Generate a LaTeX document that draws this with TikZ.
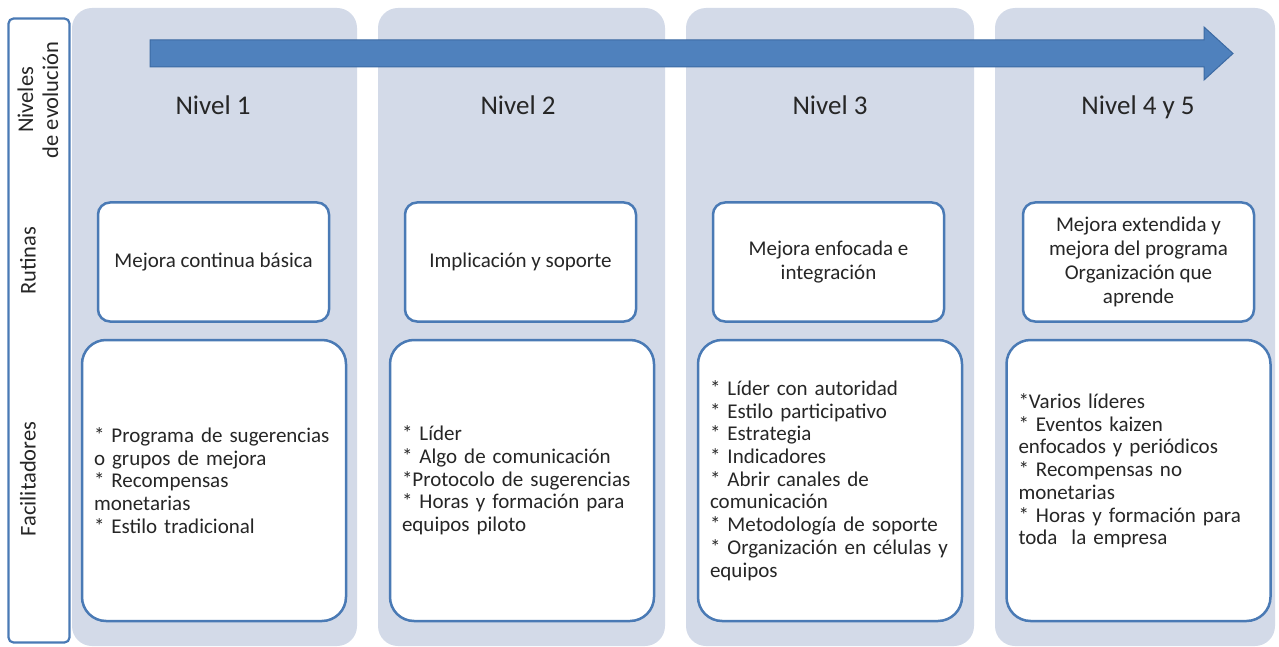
\documentclass[tikz,border=0pt]{standalone}
\usepackage{fontspec}
\setmainfont{Carlito}
\definecolor{colbg}{HTML}{D3DAE8}
\definecolor{bord}{HTML}{4A7AB5}
\definecolor{arrfill}{HTML}{4F81BD}
\definecolor{arrbord}{HTML}{3C6AA3}
\definecolor{txt}{HTML}{262626}
\begin{document}
\begin{tikzpicture}[x=1pt,y=-1pt,
  colbox/.style={fill=colbg, draw=none, rounded corners=20pt, minimum height=638pt, inner sep=0pt},
  sidebox/.style={fill=white, draw=bord, line width=2.2pt, rounded corners=5pt, minimum width=61pt, minimum height=624pt, inner sep=0pt},
  sidelabel/.style={rotate=90, align=center, text=txt, font=\fontsize{22.5}{25}\selectfont},
  heading/.style={anchor=base, text=txt, font=\fontsize{27}{30}\selectfont},
  rbox/.style={fill=white, draw=bord, line width=2.5pt, rounded corners=12pt, minimum width=231pt, minimum height=119pt, align=center, text=txt, font=\fontsize{21}{24}\selectfont},
  fbox/.style={fill=white, draw=bord, line width=2.5pt, rounded corners=24pt, minimum width=264pt, minimum height=281pt, text width=240pt, inner xsep=12pt, align=left, text=txt, font=\fontsize{21}{22.7}\selectfont}
]
\useasboundingbox (0,0) rectangle (1279,647);
% columns
\node[colbox, minimum width=285pt] (c1) at (214.5,327) {};
\node[colbox, minimum width=287pt] (c2) at (521.5,327) {};
\node[colbox, minimum width=288pt] (c3) at (830,327) {};
\node[colbox, minimum width=280pt] (c4) at (1135,327) {};
% side label column
\node[sidebox] (side) at (39,330.5) {};
\node[sidelabel] (lniv) at (38,100) {Niveles\\de evolución};
\node[sidelabel] (lrut) at (28,261) {Rutinas};
\node[sidelabel] (lfac) at (28,479) {Facilitadores};
% arrow
\filldraw[fill=arrfill, draw=arrbord, line width=1pt]
  (150,40) -- (1204,40) -- (1204,27) -- (1233,53.5) -- (1204,80) -- (1204,67) -- (150,67) -- cycle;
% headings
\node[heading] (h1) at (213,115) {Nivel 1};
\node[heading] (h2) at (518,115) {Nivel 2};
\node[heading] (h3) at (830,115) {Nivel 3};
\node[heading] (h4) at (1138,115) {Nivel 4 y 5};
% rutinas
\node[rbox] (r1) at (213.5,262) {Mejora continua básica};
\node[rbox] (r2) at (520.5,262) {Implicación y soporte};
\node[rbox] (r3) at (828.5,262) {Mejora enfocada e\\integración};
\node[rbox] (r4) at (1138.5,262) {Mejora extendida y\\mejora del programa\\Organización que\\aprende};
% facilitadores
\node[fbox] (f1) at (214,480.5) {* Programa de sugerencias\\o grupos de mejora\\{}* Recompensas\\monetarias\\{}* Estilo tradicional};
\node[fbox] (f2) at (522,480.5) {* Líder\\{}* Algo de comunicación\\{}*Protocolo de sugerencias\\{}* Horas y formación para\\equipos piloto};
\node[fbox] (f3) at (830,480.5) {* Líder con autoridad\\{}* Estilo participativo\\{}* Estrategia\\{}* Indicadores\\{}* Abrir canales de\\comunicación\\{}* Metodología de soporte\\{}* Organización en células y\\equipos};
\node[fbox] (f4) at (1138.5,480.5) {*Varios líderes\\{}* Eventos kaizen\\enfocados y periódicos\\{}* Recompensas no\\monetarias\\{}* Horas y formación para\\toda\ \ la empresa\\\mbox{}};
\end{tikzpicture}
\end{document}
